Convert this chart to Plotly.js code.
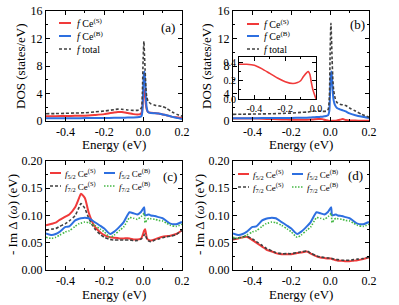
<!DOCTYPE html>
<html><head><meta charset="utf-8">
<script src="https://cdn.plot.ly/plotly-3.0.1.min.js"></script>
<style>html,body{margin:0;padding:0;background:#fff}#g{width:399px;height:305px}</style>
</head><body><div id="g"></div>
<script>
// ---- Panel (a) DOS ----
const xA = [-0.5,-0.45,-0.4,-0.35,-0.3,-0.25,-0.2,-0.15,-0.13,-0.11,-0.08,-0.05,-0.03,-0.015,-0.008,-0.004,0,0.004,0.007,0.01,0.014,0.018,0.025,0.04,0.06,0.08,0.1,0.12,0.15,0.18,0.2];
const aRed   = [0.68,0.70,0.72,0.75,0.78,0.88,1.0,1.25,1.32,1.3,1.15,1.0,0.95,1.0,1.2,1.9,3.5,4.6,4.3,3.6,2.4,1.7,1.3,1.2,1.15,1.1,0.95,0.85,0.6,0.5,0.42];
const aBlue  = [0.39,0.39,0.40,0.41,0.42,0.43,0.45,0.46,0.47,0.48,0.50,0.52,0.55,0.62,0.75,1.4,4.5,6.8,7.2,6.0,3.5,2.0,1.3,1.15,1.12,1.1,0.95,0.85,0.6,0.42,0.3];
const aTot   = [1.06,1.08,1.12,1.16,1.2,1.32,1.45,1.65,1.72,1.7,1.6,1.55,1.55,1.7,2.0,4.0,9.0,11.6,9.5,7.5,5.0,3.6,2.9,2.5,2.3,2.2,2.1,1.85,1.3,0.9,0.7];
// ---- Panel (b) DOS ----
const xB = [-0.5,-0.45,-0.4,-0.35,-0.3,-0.25,-0.2,-0.15,-0.12,-0.1,-0.08,-0.06,-0.05,-0.04,-0.03,-0.02,-0.01,-0.004,0,0.004,0.007,0.01,0.014,0.018,0.025,0.035,0.05,0.065,0.08,0.1,0.13,0.16,0.2];
const bRed   = [0.38,0.38,0.37,0.33,0.28,0.23,0.19,0.17,0.18,0.20,0.25,0.29,0.30,0.27,0.18,0.10,0.05,0.02,0.0,0.01,0.02,0.02,0.03,0.03,0.04,0.06,0.18,0.28,0.15,0.08,0.06,0.05,0.03];
const bBlue  = [0.39,0.40,0.41,0.42,0.43,0.44,0.45,0.47,0.49,0.52,0.55,0.58,0.60,0.63,0.68,0.72,0.85,1.5,4.5,6.9,7.2,6.0,4.0,3.0,2.3,1.9,1.7,1.55,1.4,1.1,0.85,0.65,0.45];
const bTot   = [0.97,0.99,1.01,1.03,1.06,1.1,1.15,1.25,1.3,1.38,1.45,1.45,1.43,1.4,1.4,1.45,1.7,3.5,10.0,14.2,12.0,9.0,6.0,4.5,3.4,2.7,2.45,2.35,2.25,1.9,1.45,1.0,0.55];
// ---- Inset (b): f Ce(S), E<0 ----
const xIn = [-0.5,-0.45,-0.4,-0.35,-0.3,-0.25,-0.2,-0.15,-0.12,-0.1,-0.08,-0.06,-0.05,-0.04,-0.03,-0.02,-0.01,0];
const inRed = [0.38,0.38,0.37,0.33,0.28,0.23,0.19,0.17,0.18,0.20,0.25,0.29,0.30,0.27,0.18,0.10,0.05,0.0];
// ---- Panels (c),(d) hybridization ----
const xC = [-0.5,-0.47,-0.45,-0.43,-0.4,-0.38,-0.35,-0.33,-0.32,-0.3,-0.28,-0.25,-0.22,-0.2,-0.17,-0.15,-0.12,-0.1,-0.07,-0.05,-0.03,-0.01,0.005,0.01,0.02,0.03,0.04,0.06,0.08,0.1,0.12,0.14,0.17,0.2];
const c52S = [0.082,0.085,0.087,0.092,0.098,0.102,0.115,0.132,0.140,0.132,0.105,0.080,0.069,0.064,0.060,0.059,0.058,0.058,0.058,0.056,0.056,0.058,0.072,0.075,0.058,0.055,0.054,0.056,0.059,0.061,0.062,0.063,0.066,0.073];
const c72S = [0.073,0.075,0.076,0.080,0.085,0.090,0.100,0.115,0.122,0.113,0.095,0.076,0.065,0.060,0.056,0.055,0.055,0.055,0.055,0.054,0.054,0.057,0.064,0.066,0.056,0.053,0.052,0.055,0.057,0.059,0.061,0.062,0.065,0.073];
const c52B = [0.067,0.064,0.066,0.070,0.079,0.080,0.091,0.094,0.095,0.096,0.095,0.088,0.081,0.076,0.066,0.070,0.080,0.088,0.106,0.104,0.102,0.107,0.115,0.100,0.101,0.102,0.100,0.099,0.097,0.095,0.090,0.085,0.084,0.088];
const c72B = [0.060,0.058,0.060,0.064,0.070,0.072,0.080,0.085,0.086,0.088,0.087,0.082,0.075,0.070,0.060,0.064,0.073,0.079,0.096,0.095,0.093,0.098,0.104,0.087,0.092,0.095,0.094,0.093,0.091,0.090,0.086,0.082,0.080,0.084];
const d52S = [0.056,0.058,0.060,0.061,0.055,0.050,0.043,0.038,0.036,0.034,0.031,0.029,0.029,0.029,0.031,0.032,0.034,0.030,0.025,0.023,0.022,0.021,0.021,0.020,0.019,0.018,0.017,0.017,0.016,0.016,0.017,0.018,0.020,0.023];
const d72S = [0.057,0.059,0.061,0.062,0.057,0.052,0.045,0.040,0.038,0.035,0.032,0.030,0.030,0.030,0.032,0.033,0.035,0.031,0.026,0.024,0.023,0.022,0.022,0.021,0.020,0.019,0.019,0.018,0.018,0.018,0.019,0.020,0.021,0.024];
// ---- tick labels ----
const xTickVals = [-0.4,-0.2,0.0,0.2];
const xTickText = ['-0.4','-0.2','0.0','0.2'];
const dosTickVals = [0,4,8,12,16];
const dosTickText = ['0','4','8','12','16'];
const hybTickVals = [0,0.05,0.1,0.15,0.2];
const hybTickText = ['0.00','0.05','0.10','0.15','0.20'];
const inXVals = [-0.4,-0.2,0.0];
const inXText = ['-0.4','-0.2','0.0'];
const inYVals = [0,0.2,0.4];
const inYText = ['0.0','0.2','0.4'];

const RED='#f03a3a', BLUE='#2d6fe0', GRAY='#404040', GREEN='#45b845';
const DASH='3px,2px', DOT='1.5px,1.5px';
const W=399,H=305;
const px=x=>x/W, py=y=>1-y/H;
const FONT='"Liberation Serif", "DejaVu Serif", serif';

function ln(x,y,xa,ya,color,dash,w){return {x:x,y:y,xaxis:xa,yaxis:ya,type:'scatter',mode:'lines',line:{color:color,width:w||2,dash:dash||'solid',shape:'spline',smoothing:0.6},showlegend:false,hoverinfo:'skip'};}
const data=[
 ln(xA,aRed,'x','y',RED), ln(xA,aBlue,'x','y',BLUE), ln(xA,aTot,'x','y',GRAY,DASH,1.6),
 ln(xB,bRed,'x2','y2',RED), ln(xB,bBlue,'x2','y2',BLUE), ln(xB,bTot,'x2','y2',GRAY,DASH,1.6),
 ln(xC,c52S,'x3','y3',RED), ln(xC,c72S,'x3','y3',GRAY,DASH,1.6), ln(xC,c52B,'x3','y3',BLUE), ln(xC,c72B,'x3','y3',GREEN,DOT,1.6),
 ln(xC,d52S,'x4','y4',RED), ln(xC,d72S,'x4','y4',GRAY,DASH,1.6), ln(xC,c52B,'x4','y4',BLUE), ln(xC,c72B,'x4','y4',GREEN,DOT,1.6),
 ln(xIn,inRed,'x5','y5',RED,'solid',1.6)
];

function ax(dom,anchor,range,tv,tt,minor,fs){return {domain:dom,anchor:anchor,range:range,tickvals:tv,ticktext:tt,showline:true,linecolor:'#000',linewidth:1,mirror:'allticks',ticks:'inside',ticklen:4,tickwidth:1,tickcolor:'#000',minor:minor?{tickvals:minor,ticks:'inside',ticklen:2,tickcolor:'#000'}:undefined,showgrid:false,zeroline:false,tickfont:{family:FONT,size:fs||12,color:'#000'},fixedrange:true};}
const xMinor=[-0.5,-0.3,-0.1,0.1];
const dosMinor=[2,6,10,14];
const hybMinor=[0.025,0.075,0.125,0.175];
const dA=[px(46),px(182)], dB=[px(233),px(369)];
const dTop=[py(121),py(11)], dBot=[py(270),py(161)];

const layout={width:W,height:H,margin:{l:0,r:0,t:0,b:0},paper_bgcolor:'#fff',plot_bgcolor:'rgba(0,0,0,0)',showlegend:false,font:{family:FONT,color:'#000'},
 xaxis:ax(dA,'y',[-0.5,0.2],xTickVals,xTickText,xMinor),
 yaxis:ax(dTop,'x',[0,16],dosTickVals,dosTickText,dosMinor),
 xaxis2:ax(dB,'y2',[-0.5,0.2],xTickVals,xTickText,xMinor),
 yaxis2:ax(dTop,'x2',[0,16],dosTickVals,dosTickText,dosMinor),
 xaxis3:ax(dA,'y3',[-0.5,0.2],xTickVals,xTickText,xMinor),
 yaxis3:ax(dBot,'x3',[0,0.2],hybTickVals,hybTickText,hybMinor),
 xaxis4:ax(dB,'y4',[-0.5,0.2],xTickVals,xTickText,xMinor),
 yaxis4:ax(dBot,'x4',[0,0.2],hybTickVals,hybTickText,hybMinor),
 xaxis5:ax([px(239),px(316)],'y5',[-0.5,0],inXVals,inXText,[-0.3,-0.1],10),
 yaxis5:ax([py(99),py(57)],'x5',[0,0.46],inYVals,inYText,[0.1,0.3],10),
 shapes:[],annotations:[]};
layout.shapes.push({type:'rect',xref:'paper',yref:'paper',x0:px(239),x1:px(316),y0:py(99),y1:py(57),fillcolor:'#fff',line:{width:0},layer:'below'});

function legLine(x0,x1,y,color,dash,w){layout.shapes.push({type:'line',xref:'paper',yref:'paper',x0:px(x0),x1:px(x1),y0:py(y),y1:py(y),line:{color:color,width:w||2,dash:dash||'solid'}});}
function txt(x,y,t,size,anchor,angle){layout.annotations.push({xref:'paper',yref:'paper',x:px(x),y:py(y),text:t,showarrow:false,xanchor:anchor||'left',yanchor:'middle',textangle:angle||0,font:{family:FONT,size:size||10,color:'#000'}});}

const fS='<i>f</i> Ce<sup>(S)</sup>', fB='<i>f</i> Ce<sup>(B)</sup>', fT='<i>f</i> total';
legLine(59,71,23,RED); txt(75,23,fS); legLine(59,71,36,BLUE); txt(75,36,fB); legLine(59,71,49,GRAY,DASH,1.6); txt(75,49,fT);
legLine(247,259,24,RED); txt(262,24,fS); legLine(247,259,36,BLUE); txt(262,36,fB); legLine(247,259,49,GRAY,DASH,1.6); txt(262,49,fT);
const f52S='<i>f</i><sub>5/2</sub> Ce<sup>(S)</sup>', f72S='<i>f</i><sub>7/2</sub> Ce<sup>(S)</sup>', f52B='<i>f</i><sub>5/2</sub> Ce<sup>(B)</sup>', f72B='<i>f</i><sub>7/2</sub> Ce<sup>(B)</sup>';
legLine(50,61,173,RED); txt(63,173,f52S,9); legLine(50,61,186,GRAY,DASH,1.6); txt(63,186,f72S,9);
legLine(104,115,173,BLUE); txt(117,173,f52B,9); legLine(104,115,186,GREEN,DOT,1.6); txt(117,186,f72B,9);
legLine(238,249,174,RED); txt(251,174,f52S,9); legLine(238,249,187,GRAY,DASH,1.6); txt(251,187,f72S,9);
legLine(292,303,174,BLUE); txt(305,174,f52B,9); legLine(292,303,187,GREEN,DOT,1.6); txt(305,187,f72B,9);
txt(168,27,'(a)',13,'center'); txt(357,25,'(b)',13,'center'); txt(170,176,'(c)',13,'center'); txt(355,175,'(d)',13,'center');
txt(114,144,'Energy (eV)',13,'center'); txt(301,144,'Energy (eV)',13,'center');
txt(114,294,'Energy (eV)',13,'center'); txt(301,294,'Energy (eV)',13,'center');
txt(21,66,'DOS (states/eV)',13,'center',-90); txt(207,66,'DOS (states/eV)',13,'center',-90);
txt(12,215,'- Im Δ (<i>ω</i>) (eV)',13,'center',-90); txt(199,215,'- Im Δ (<i>ω</i>) (eV)',13,'center',-90);

Plotly.newPlot('g',data,layout,{staticPlot:true,displayModeBar:false});
</script></body></html>
